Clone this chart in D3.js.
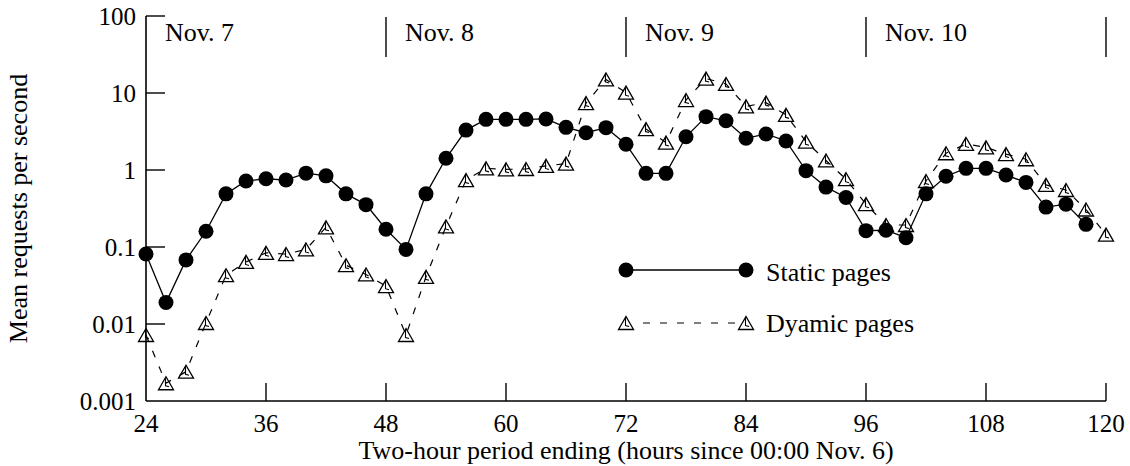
<!DOCTYPE html>
<html>
<head>
<meta charset="utf-8">
<script src="https://cdn.jsdelivr.net/npm/d3@7"></script>
<style>
  html, body { margin: 0; padding: 0; background: #fff; }
  svg text { font-family: "Liberation Serif", "Times New Roman", Times, serif; font-size: 26px; fill: #000; }
  svg text.tick { font-size: 25px; }
</style>
</head>
<body>
<svg id="chart" width="1130" height="466"></svg>
<script>
// Two-hour periods (hours since 00:00 Nov. 6)
const staticHours = [24, 26, 28, 30, 32, 34, 36, 38, 40, 42, 44, 46, 48, 50,
  52, 54, 56, 58, 60, 62, 64, 66, 68, 70, 72, 74, 76, 78,
  80, 82, 84, 86, 88, 90, 92, 94, 96, 98, 100, 102, 104,
  106, 108, 110, 112, 114, 116, 118];
const staticRates = [0.081, 0.019, 0.068, 0.16, 0.49, 0.72, 0.77, 0.74, 0.91, 0.84, 0.49, 0.355, 0.17, 0.093,
  0.49, 1.42, 3.3, 4.55, 4.55, 4.55, 4.6, 3.58, 3.05, 3.55, 2.16, 0.905, 0.905, 2.7,
  4.93, 4.36, 2.58, 2.94, 2.38, 0.98, 0.60, 0.44, 0.163, 0.165, 0.132, 0.49, 0.83,
  1.05, 1.05, 0.86, 0.69, 0.33, 0.36, 0.197];

const dynamicHours = [24, 26, 28, 30, 32, 34, 36, 38, 40, 42, 44, 46, 48, 50,
  52, 54, 56, 58, 60, 62, 64, 66, 68, 70, 72, 74, 76, 78,
  80, 82, 84, 86, 88, 90, 92, 94, 96, 98, 100, 102, 104,
  106, 108, 110, 112, 114, 116, 118, 120];
const dynamicRates = [0.0072, 0.0017, 0.0024, 0.0103, 0.043, 0.064, 0.084, 0.081, 0.093, 0.18, 0.058, 0.044, 0.031, 0.0072,
  0.041, 0.185, 0.74, 1.05, 1.02, 1.03, 1.13, 1.21, 7.4, 15, 10.1, 3.4, 2.27, 8.1,
  15.4, 13.1, 6.7, 7.5, 5.2, 2.33, 1.33, 0.76, 0.36, 0.193, 0.193, 0.72, 1.65,
  2.18, 1.97, 1.61, 1.38, 0.64, 0.55, 0.307, 0.145];

const xTicks = [24, 36, 48, 60, 72, 84, 96, 108, 120];
const yTicks = [0.001, 0.01, 0.1, 1, 10, 100];
const yTickLabels = ["0.001", "0.01", "0.1", "1", "10", "100"];
const dayStarts = [24, 48, 72, 96];
const dayEnds = [48, 72, 96, 120];
const dayLabels = ["Nov. 7", "Nov. 8", "Nov. 9", "Nov. 10"];
const seriesNames = ["Static pages", "Dyamic pages"];

const svg = d3.select("#chart");
const plotLeft = 146, plotRight = 1106, plotTop = 16, plotBottom = 401;

const x = d3.scaleLinear().domain([24, 120]).range([plotLeft, plotRight]);
const y = d3.scaleLog().domain([0.001, 100]).range([plotBottom, plotTop]);

const ink = "#000";

// Axes: left and bottom lines with inward ticks
svg.append("line").attr("x1", plotLeft).attr("x2", plotLeft).attr("y1", plotTop).attr("y2", plotBottom)
  .attr("stroke", ink).attr("stroke-width", 1.6);
svg.append("line").attr("x1", plotLeft).attr("x2", plotRight).attr("y1", plotBottom).attr("y2", plotBottom)
  .attr("stroke", ink).attr("stroke-width", 1.6);

svg.append("g").selectAll("line").data(xTicks.slice(1)).join("line")
  .attr("x1", d => x(d)).attr("x2", d => x(d))
  .attr("y1", plotBottom).attr("y2", plotBottom - 18)
  .attr("stroke", ink).attr("stroke-width", 1.4);

svg.append("g").selectAll("text").data(xTicks).join("text")
  .attr("class", "tick")
  .attr("x", d => x(d)).attr("y", 432)
  .attr("text-anchor", "middle")
  .text(d => d);

svg.append("g").selectAll("line").data(yTicks.slice(1)).join("line")
  .attr("x1", plotLeft).attr("x2", plotLeft + 19)
  .attr("y1", d => y(d)).attr("y2", d => y(d))
  .attr("stroke", ink).attr("stroke-width", 1.4);

svg.append("g").selectAll("text").data(yTicks).join("text")
  .attr("class", "tick")
  .attr("x", 136).attr("y", d => y(d) + 9)
  .attr("text-anchor", "end")
  .text((d, i) => yTickLabels[i]);

// Axis titles
svg.append("text")
  .attr("x", (plotLeft + plotRight) / 2).attr("y", 459)
  .attr("text-anchor", "middle")
  .text("Two-hour period ending (hours since 00:00 Nov. 6)");

svg.append("text")
  .attr("transform", `translate(27,${(plotTop + plotBottom) / 2}) rotate(-90)`)
  .attr("text-anchor", "middle")
  .text("Mean requests per second");

// Day separators and labels along the top
svg.append("g").selectAll("line").data(dayEnds).join("line")
  .attr("x1", d => x(d)).attr("x2", d => x(d))
  .attr("y1", 17).attr("y2", 57)
  .attr("stroke", ink).attr("stroke-width", 1.4);

svg.append("g").selectAll("text").data(dayStarts).join("text")
  .attr("x", d => x(d) + 19).attr("y", 41)
  .text((d, i) => dayLabels[i]);

// Series
const staticData = staticHours.map((h, i) => [h, staticRates[i]]);
const dynamicData = dynamicHours.map((h, i) => [h, dynamicRates[i]]);

const line = d3.line().x(d => x(d[0])).y(d => y(d[1]));

svg.append("path").datum(dynamicData)
  .attr("d", line)
  .attr("fill", "none").attr("stroke", ink).attr("stroke-width", 1.2)
  .attr("stroke-dasharray", "7,10");

svg.append("path").datum(staticData)
  .attr("d", line)
  .attr("fill", "none").attr("stroke", ink).attr("stroke-width", 1.3);

const triPath = "M0,-6.5L-7.5,6.5L7.5,6.5Z";
const triInner = "M-0.5,-5L-0.5,2.5L3,3.5";

function triangle(g) {
  g.append("path").attr("d", triPath)
    .attr("fill", "none").attr("stroke", ink).attr("stroke-width", 1.3);
  g.append("path").attr("d", triInner)
    .attr("fill", "none").attr("stroke", ink).attr("stroke-width", 1.1);
}

svg.append("g").selectAll("g").data(dynamicData).join("g")
  .attr("transform", d => `translate(${x(d[0])},${y(d[1])})`)
  .each(function () { triangle(d3.select(this)); });

svg.append("g").selectAll("circle").data(staticData).join("circle")
  .attr("cx", d => x(d[0])).attr("cy", d => y(d[1]))
  .attr("r", 7.5).attr("fill", ink);

// Legend
const lgX1 = 626, lgX2 = 746, lgText = 766;
const lgY = [270, 323];

svg.append("line").attr("x1", lgX1).attr("x2", lgX2).attr("y1", lgY[0]).attr("y2", lgY[0])
  .attr("stroke", ink).attr("stroke-width", 1.3);
[lgX1, lgX2].forEach(px => {
  svg.append("circle").attr("cx", px).attr("cy", lgY[0]).attr("r", 7.5).attr("fill", ink);
});
svg.append("text").attr("x", lgText).attr("y", lgY[0] + 11).text(seriesNames[0]);

svg.append("line").attr("x1", lgX1 + 17).attr("x2", lgX2).attr("y1", lgY[1]).attr("y2", lgY[1])
  .attr("stroke", ink).attr("stroke-width", 1.2).attr("stroke-dasharray", "7,10");
[lgX1, lgX2].forEach(px => {
  triangle(svg.append("g").attr("transform", `translate(${px},${lgY[1]})`));
});
svg.append("text").attr("x", lgText).attr("y", lgY[1] + 9).text(seriesNames[1]);
</script>
</body>
</html>
